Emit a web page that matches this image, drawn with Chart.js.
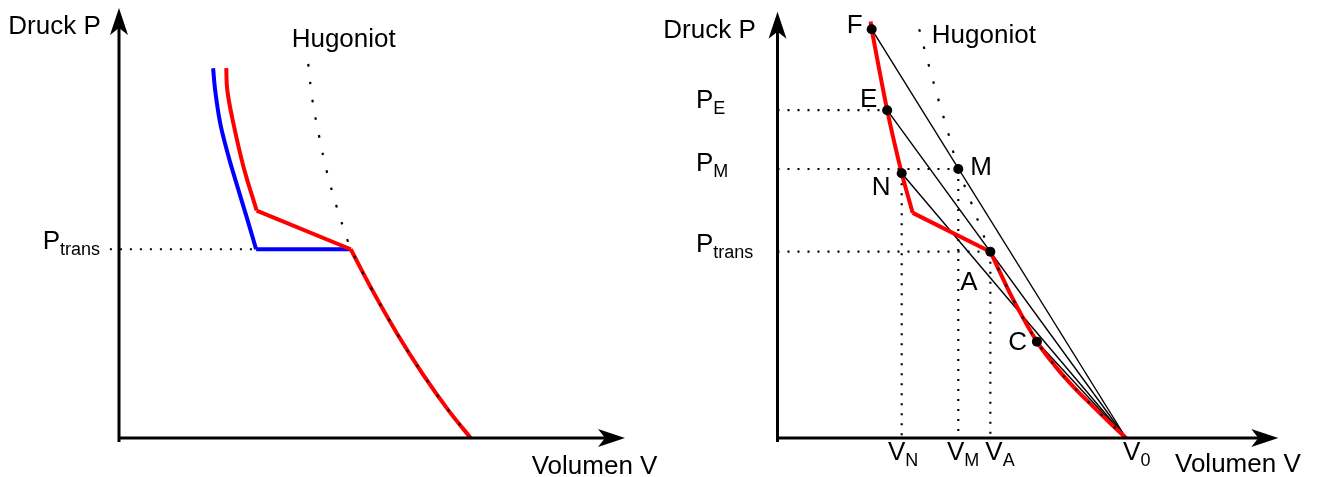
<!DOCTYPE html>
<html>
<head>
<meta charset="utf-8">
<title>Druck-Volumen-Diagramm</title>
<script src="https://cdn.jsdelivr.net/npm/chart.js@4/dist/chart.umd.min.js"></script>
<style>
  html, body { margin: 0; padding: 0; background: #fff; overflow: hidden; }
  .panel { position: absolute; top: 0; height: 477px; }
  #left { left: 0; width: 660px; }
  #right { left: 660px; width: 659px; }
</style>
</head>
<body>
<div class="panel" id="left"><canvas id="leftChart"></canvas></div>
<div class="panel" id="right"><canvas id="rightChart"></canvas></div>
<script>
// ---- left panel: isentrope branches around the phase transition ----
const leftBlueV = [1.86, 1.90, 2.00, 2.13, 2.26, 2.52, 2.71];
const leftBlueP = [8.60, 8.09, 7.32, 6.70, 6.16, 5.15, 4.39];
const leftRedV = [2.12, 2.14, 2.26, 2.46, 2.72];
const leftRedP = [8.60, 8.09, 7.32, 6.31, 5.29];
const leftTransV = 4.58;
const leftTransP = 4.39;
const leftLowerV = [4.58, 5.00, 5.50, 6.00, 6.50, 6.95];
const leftLowerP = [4.39, 3.45, 2.42, 1.49, 0.66, 0];
const leftHugV = [3.74, 3.82, 3.95, 4.10, 4.29, 4.51];
const leftHugP = [8.70, 7.88, 7.05, 6.23, 5.42, 4.62];
const leftGuideStart = -0.18;

// ---- right panel: Rayleigh lines from V0 ----
const stateNames = ['F', 'E', 'N', 'M', 'A', 'C'];
const stateV = [1.88, 2.19, 2.48, 3.61, 4.25, 5.18];
const stateP = [9.59, 7.69, 6.21, 6.31, 4.37, 2.26];
const v0 = 6.96;
const rightRedV = [1.86, 1.88, 2.19, 2.48, 2.70];
const rightRedP = [9.77, 9.59, 7.69, 6.21, 5.28];
const rightLowerV = [4.25, 4.45, 4.71, 5.18, 5.55, 5.91, 6.31, 6.64, 6.96];
const rightLowerP = [4.37, 3.87, 3.24, 2.26, 1.68, 1.20, 0.73, 0.35, 0];
const rightHugV = [2.83, 3.01, 3.21, 3.41, 3.61, 3.85, 4.10];
const rightHugP = [9.59, 8.79, 7.95, 7.15, 6.31, 5.58, 4.80];
const rayleighTo = ['F', 'E', 'N', 'C'];

const FONT = '"Liberation Sans", Arial, sans-serif';
const labelMakers = {};

function pts(vs, ps) {
    return vs.map((v, i) => ({ x: v, y: ps[i] }));
}

function lineSet(data, color, width, opts) {
    return Object.assign({
        data: data,
        showLine: true,
        pointRadius: 0,
        borderColor: color,
        borderWidth: width,
        borderCapStyle: 'butt',
        fill: false,
        clip: false,
        tension: 0
    }, opts || {});
}

function state(name) {
    const i = stateNames.indexOf(name);
    return { x: stateV[i], y: stateP[i] };
}

function drawArrowHead(ctx, tx, ty, dx, dy) {
    const len = 27, half = 9, notch = 7;
    const nx = -dy, ny = dx;
    ctx.beginPath();
    ctx.moveTo(tx, ty);
    ctx.lineTo(tx - len * dx + half * nx, ty - len * dy + half * ny);
    ctx.lineTo(tx - (len - notch) * dx, ty - (len - notch) * dy);
    ctx.lineTo(tx - len * dx - half * nx, ty - len * dy - half * ny);
    ctx.closePath();
    ctx.fill();
}

function drawLabel(ctx, text, sub, x, y) {
    ctx.font = '26px ' + FONT;
    ctx.fillText(text, x, y);
    if (sub) {
        const w = ctx.measureText(text).width;
        ctx.font = '18px ' + FONT;
        ctx.fillText(sub, x + w, y + 6);
    }
}

// axes with arrow heads plus all text, positioned from the scales
const decor = {
    id: 'decor',
    afterDatasetsDraw(chart) {
        const { ctx, chartArea: a, scales: { x, y } } = chart;
        const ox = x.getPixelForValue(0), oy = y.getPixelForValue(0);
        ctx.save();
        ctx.strokeStyle = '#000';
        ctx.fillStyle = '#000';
        ctx.lineWidth = 3;
        ctx.beginPath();
        ctx.moveTo(ox, oy + 4);
        ctx.lineTo(ox, a.top + 20);
        ctx.moveTo(ox - 1.5, oy);
        ctx.lineTo(a.right - 20, oy);
        ctx.stroke();
        drawArrowHead(ctx, ox, a.top, 0, -1);
        drawArrowHead(ctx, a.right, oy, 1, 0);

        ctx.textBaseline = 'alphabetic';
        ctx.textAlign = 'left';
        const labels = labelMakers[chart.canvas.id](x, y, a);
        labels.forEach(l => drawLabel(ctx, l.text, l.sub, l.x, l.y));
        ctx.restore();
    }
};

function makeChart(id, datasets, padding, labels) {
    labelMakers[id] = labels;
    return new Chart(document.getElementById(id), {
        type: 'scatter',
        data: { datasets: datasets },
        options: {
            responsive: true,
            maintainAspectRatio: false,
            animation: false,
            events: [],
            layout: { padding: padding },
            scales: {
                x: { type: 'linear', min: 0, max: 10, display: false },
                y: { type: 'linear', min: 0, max: 10, display: false }
            },
            plugins: {
                legend: { display: false },
                tooltip: { enabled: false }
            }
        },
        plugins: [decor]
    });
}

// left panel
makeChart('leftChart', [
    lineSet(pts(leftHugV, leftHugP).concat(pts(leftLowerV, leftLowerP)), '#000', 2.2,
        { borderDash: [2.5, 15.5], tension: 0.4, order: 1 }),
    lineSet(pts(leftRedV, leftRedP), '#ff0000', 4, { tension: 0.4, order: 2 }),
    lineSet([{ x: leftRedV[leftRedV.length - 1], y: leftRedP[leftRedP.length - 1] }, { x: leftTransV, y: leftTransP }],
        '#ff0000', 4, { order: 2 }),
    lineSet(pts(leftLowerV, leftLowerP), '#ff0000', 4, { tension: 0.4, order: 2 }),
    lineSet(pts(leftBlueV, leftBlueP), '#0000ff', 4, { tension: 0.4, order: 3 }),
    lineSet([{ x: leftBlueV[leftBlueV.length - 1], y: leftTransP }, { x: leftTransV, y: leftTransP }],
        '#0000ff', 4, { order: 3 }),
    lineSet([{ x: leftGuideStart, y: leftTransP }, { x: leftBlueV[leftBlueV.length - 1], y: leftTransP }], '#000', 2.2,
        { borderDash: [2, 8], order: 5 })
], { left: 119, right: 35, top: 8, bottom: 39 }, (x, y, a) => {
    const ox = x.getPixelForValue(0), oy = y.getPixelForValue(0);
    return [
        { text: 'Druck P', x: ox - 110.7, y: a.top + 26 },
        { text: 'Volumen V', x: a.right - 93.3, y: oy + 36 },
        { text: 'Hugoniot', x: x.getPixelForValue(leftHugV[0]) - 16.6, y: y.getPixelForValue(leftHugP[0]) - 17.3 },
        { text: 'P', sub: 'trans', x: ox - 76.3, y: y.getPixelForValue(leftTransP) }
    ];
});

// right panel
const F = state('F'), E = state('E'), N = state('N'), M = state('M'), A = state('A'), C = state('C');
const origin = { x: v0, y: 0 };
const guide = (p, q) => lineSet([p, q], '#000', 2.2, { borderDash: [2, 8], order: 5 });
const rightSets = [
    lineSet(pts(stateV, stateP), '#000', 0, {
        showLine: false, pointRadius: 5, pointBackgroundColor: '#000', pointBorderWidth: 0, order: 0
    }),
    lineSet(pts(rightHugV, rightHugP).concat(pts(rightLowerV, rightLowerP)), '#000', 2.2,
        { borderDash: [2.5, 15.5], tension: 0.4, order: 1 }),
    lineSet(pts(rightRedV, rightRedP), '#ff0000', 4, { tension: 0.2, order: 2 }),
    lineSet([{ x: rightRedV[rightRedV.length - 1], y: rightRedP[rightRedP.length - 1] }, A], '#ff0000', 4, { order: 2 }),
    lineSet(pts(rightLowerV, rightLowerP), '#ff0000', 4, { tension: 0.4, order: 2 }),
    guide({ x: 0, y: E.y }, E),
    guide({ x: 0, y: M.y }, M),
    guide({ x: 0, y: A.y }, A),
    guide(N, { x: N.x, y: 0 }),
    guide(M, { x: M.x, y: 0 }),
    guide(A, { x: A.x, y: 0 })
];
rayleighTo.forEach(n => rightSets.push(lineSet([state(n), origin], '#000', 1.4, { order: 4 })));

makeChart('rightChart', rightSets, { left: 117.5, right: 40.7, top: 11.7, bottom: 39 }, (x, y, a) => {
    const ox = x.getPixelForValue(0), oy = y.getPixelForValue(0);
    const px = p => x.getPixelForValue(p.x), py = p => y.getPixelForValue(p.y);
    return [
        { text: 'Druck P', x: ox - 114.2, y: a.top + 26.6 },
        { text: 'Volumen V', x: a.right - 103.3, y: oy + 34 },
        { text: 'Hugoniot', x: x.getPixelForValue(rightHugV[0]) + 12.6, y: y.getPixelForValue(rightHugP[0]) + 14.1 },
        { text: 'F', x: px(F) - 25, y: py(F) + 4 },
        { text: 'E', x: px(E) - 27.3, y: py(E) - 2.7 },
        { text: 'N', x: px(N) - 30, y: py(N) + 21.7 },
        { text: 'M', x: px(M) + 12, y: py(M) + 6 },
        { text: 'A', x: px(A) - 30, y: py(A) + 38.3 },
        { text: 'C', x: px(C) - 28.7, y: py(C) + 8.3 },
        { text: 'P', sub: 'E', x: ox - 81.5, y: py(E) - 2.5 },
        { text: 'P', sub: 'M', x: ox - 81.5, y: py(M) + 2.4 },
        { text: 'P', sub: 'trans', x: ox - 81.5, y: py(A) },
        { text: 'V', sub: 'N', x: px(N) - 13.7, y: oy + 22 },
        { text: 'V', sub: 'M', x: px(M) - 11.3, y: oy + 22 },
        { text: 'V', sub: 'A', x: px(A) - 5, y: oy + 22 },
        { text: 'V', sub: '0', x: x.getPixelForValue(v0) - 3, y: oy + 22 }
    ];
});
</script>
</body>
</html>
